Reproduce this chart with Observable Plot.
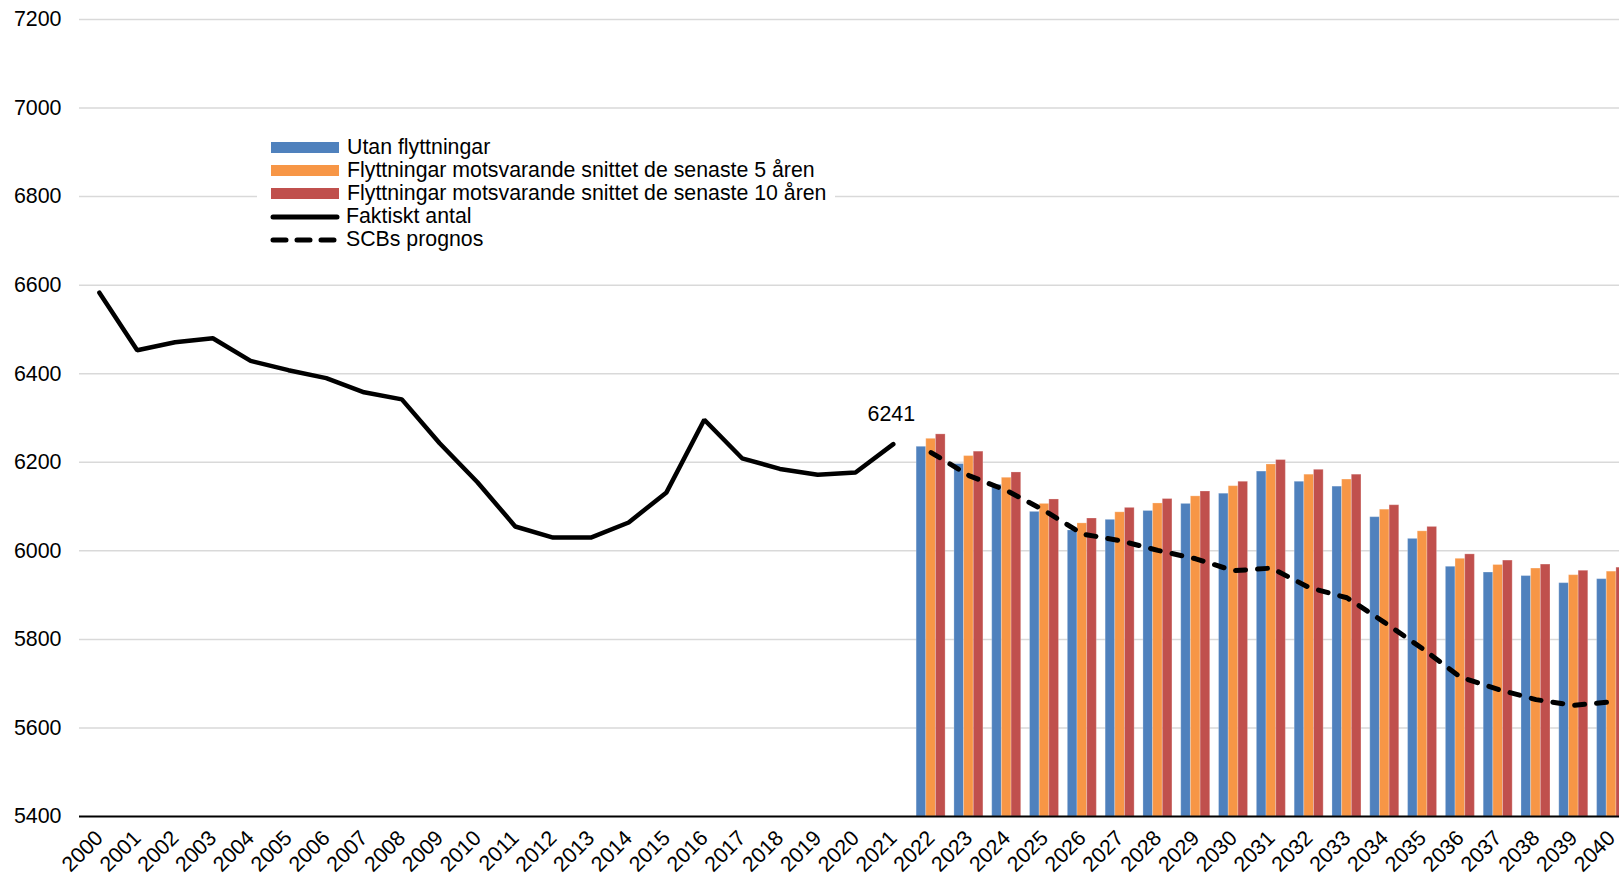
<!DOCTYPE html>
<html>
<head>
<meta charset="utf-8">
<script src="https://cdn.jsdelivr.net/npm/d3@7"></script>
<script src="https://cdn.jsdelivr.net/npm/@observablehq/plot@0.6"></script>
<style>
  html, body { margin: 0; padding: 0; background: #fff; overflow: hidden; }
  #wrap { position: relative; width: 1619px; height: 876px; }
  #legend { position: absolute; left: 257px; top: 134px; width: 578px; height: 116px; background: #fff;
    font-family: "Liberation Sans", Arial, sans-serif; font-size: 21.3px; color: #000; }
  .row { position: absolute; left: 14px; height: 23px; display: flex; align-items: center; }
  .sw { width: 68px; height: 11px; margin-right: 8px; }
  .ln { width: 70px; height: 12px; margin-right: 6px; margin-left: -1px; }
</style>
</head>
<body>
<div id="wrap"><div id="chart"></div><div id="legend"></div></div>
<script>
// ---- data ----
const allYears = [2000,2001,2002,2003,2004,2005,2006,2007,2008,2009,2010,2011,2012,2013,2014,2015,2016,2017,2018,2019,2020,2021,2022,2023,2024,2025,2026,2027,2028,2029,2030,2031,2032,2033,2034,2035,2036,2037,2038,2039,2040];
const actualYears = [2000,2001,2002,2003,2004,2005,2006,2007,2008,2009,2010,2011,2012,2013,2014,2015,2016,2017,2018,2019,2020,2021];
const actual = [6583,6453,6471,6480,6429,6408,6390,6358,6342,6243,6155,6055,6030,6030,6064,6132,6296,6209,6185,6172,6177,6241];
const forecastYears = [2022,2023,2024,2025,2026,2027,2028,2029,2030,2031,2032,2033,2034,2035,2036,2037,2038,2039,2040];
const utan    = [6235,6196,6149,6088,6046,6070,6090,6106,6129,6179,6156,6145,6076,6027,5964,5951,5943,5927,5936];
const snitt5  = [6253,6214,6165,6106,6062,6087,6107,6123,6146,6195,6172,6161,6093,6044,5982,5968,5960,5945,5953];
const snitt10 = [6263,6224,6177,6116,6073,6097,6117,6134,6156,6205,6183,6172,6103,6054,5992,5978,5969,5955,5962];
const scb     = [6222,6170,6136,6091,6038,6023,6001,5982,5955,5961,5917,5894,5838,5779,5715,5687,5664,5651,5659];
const yTicks = [5400,5600,5800,6000,6200,6400,6600,6800,7000,7200];
const seriesNames = ["Utan flyttningar","Flyttningar motsvarande snittet de senaste 5 åren","Flyttningar motsvarande snittet de senaste 10 åren"];
const lineNames = ["Faktiskt antal","SCBs prognos"];
const seriesColors = ["#4F81BD","#F79646","#C0504D"];
const labelValue = 6241;

// ---- tables ----
const seriesData = [utan, snitt5, snitt10];
const groupW = 0.767, barW = groupW / 3;
const bars = [];
seriesData.forEach((vals, k) => {
  forecastYears.forEach((yr, i) => {
    const x1 = yr - groupW / 2 + k * barW;
    bars.push({series: seriesNames[k], x1, x2: x1 + barW, value: vals[i]});
  });
});
const actualData = actualYears.map((y, i) => ({year: y, value: actual[i]}));
const scbData = forecastYears.map((y, i) => ({year: y, value: scb[i]}));

const font = '"Liberation Sans", Arial, sans-serif';
const chart = Plot.plot({
  width: 1619, height: 876,
  marginLeft: 79, marginRight: 0, marginTop: 19, marginBottom: 60,
  style: {fontFamily: font, fontSize: "21.4px", color: "#000", background: "#fff", overflow: "visible"},
  x: {type: "linear", domain: [allYears[0] - 0.5, allYears[allYears.length - 1] + 0.5], range: [80, 1630]},
  y: {domain: [yTicks[0], yTicks[yTicks.length - 1]]},
  color: {domain: seriesNames, range: seriesColors},
  marks: [
    Plot.ruleY(yTicks.slice(1), {stroke: "#d9d9d9", strokeWidth: 1.5}),
    Plot.rectY(bars, {x1: "x1", x2: "x2", y1: yTicks[0], y2: "value", fill: "series", stroke: "#fff", strokeOpacity: 0.25, strokeWidth: 1}),
    Plot.ruleY([yTicks[0]], {stroke: "#000", strokeWidth: 2}),
    Plot.line(actualData, {x: "year", y: "value", stroke: "#000", strokeWidth: 4.5, strokeLinejoin: "miter", strokeLinecap: "round"}),
    Plot.line(scbData, {x: "year", y: "value", stroke: "#000", strokeWidth: 5, strokeDasharray: "10,12", strokeLinecap: "round"}),
    Plot.text([{year: actualYears[actualYears.length - 1], value: labelValue}], {x: "year", y: "value", text: d => String(d.value), dy: -30, dx: -2, fontSize: 21.4, fill: "#000"}),
    Plot.axisY({ticks: yTicks, tickSize: 0, tickPadding: 18, label: null, fontSize: 21.4, tickFormat: d => String(d)}),
    Plot.axisX({ticks: allYears, tickSize: 0, tickPadding: 18, dx: 0, tickRotate: -45, label: null, fontSize: 21.4, tickFormat: d => String(d)})
  ]
});
document.getElementById("chart").appendChild(chart);

// ---- legend ----
const legend = document.getElementById("legend");
const rows = [
  {name: seriesNames[0], kind: "bar", color: seriesColors[0]},
  {name: seriesNames[1], kind: "bar", color: seriesColors[1]},
  {name: seriesNames[2], kind: "bar", color: seriesColors[2]},
  {name: lineNames[0], kind: "solid"},
  {name: lineNames[1], kind: "dash"}
];
rows.forEach((r, i) => {
  const row = document.createElement("div");
  row.className = "row";
  row.style.top = (2 + i * 23) + "px";
  if (r.kind === "bar") {
    const s = document.createElement("div");
    s.className = "sw"; s.style.background = r.color;
    row.appendChild(s);
  } else {
    const ns = "http://www.w3.org/2000/svg";
    const svg = document.createElementNS(ns, "svg");
    svg.setAttribute("class", "ln"); svg.setAttribute("width", 70); svg.setAttribute("height", 12);
    const l = document.createElementNS(ns, "line");
    l.setAttribute("x1", 3); l.setAttribute("x2", 67); l.setAttribute("y1", 6); l.setAttribute("y2", 6);
    l.setAttribute("stroke", "#000"); l.setAttribute("stroke-width", 5); l.setAttribute("stroke-linecap", "round");
    if (r.kind === "dash") l.setAttribute("stroke-dasharray", "13,11");
    svg.appendChild(l);
    row.appendChild(svg);
  }
  const t = document.createElement("span");
  t.textContent = r.name;
  row.appendChild(t);
  legend.appendChild(row);
});
</script>
</body>
</html>
